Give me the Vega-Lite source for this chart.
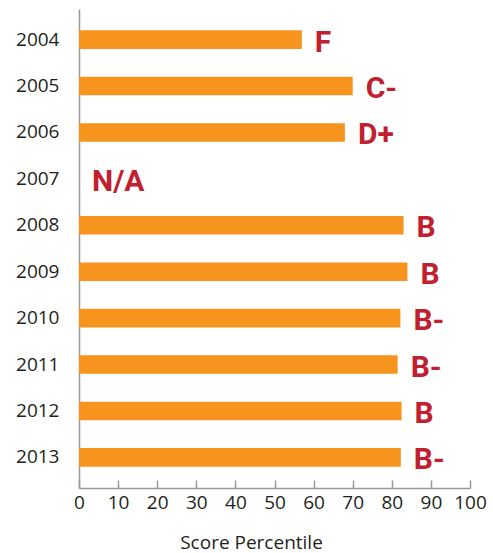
{
  "$schema": "https://vega.github.io/schema/vega-lite/v6.json",
  "autosize": {"type": "none"},
  "width": 391,
  "height": 479,
  "padding": {"left": 79, "top": 9, "right": 23, "bottom": 65},
  "background": "white",
  "config": {
    "view": {"stroke": null},
    "axisX": {
      "tickCount": 10,
      "labelOverlap": false,
      "labelFlush": false,
      "grid": false,
      "titleFont": "Open Sans",
      "titleFontSize": 19,
      "titleFontWeight": "normal",
      "titleColor": "#231F20",
      "titleX": 172,
      "titleY": 60,
      "titleBaseline": "alphabetic",
      "labelFont": "Open Sans",
      "labelFontSize": 19,
      "labelColor": "#231F20",
      "labelPadding": 13,
      "tickSize": -8,
      "tickColor": "#999999",
      "tickWidth": 1.5,
      "domainColor": "#999999",
      "domainWidth": 1.5
    },
    "axisY": {
      "ticks": false,
      "labelFont": "Open Sans",
      "labelFontSize": 19,
      "labelColor": "#231F20",
      "labelPadding": 20,
      "domainColor": "#999999",
      "domainWidth": 1.5
    }
  },
  "data": {
    "values": [
      {"year": "2004", "score": 57, "grade": "F"},
      {"year": "2005", "score": 70, "grade": "C-"},
      {"year": "2006", "score": 68, "grade": "D+"},
      {"year": "2007", "score": null, "grade": "N/A"},
      {"year": "2008", "score": 83, "grade": "B"},
      {"year": "2009", "score": 84, "grade": "B"},
      {"year": "2010", "score": 82.2, "grade": "B-"},
      {"year": "2011", "score": 81.5, "grade": "B-"},
      {"year": "2012", "score": 82.5, "grade": "B"},
      {"year": "2013", "score": 82.3, "grade": "B-"}
    ]
  },
  "encoding": {
    "y": {
      "field": "year",
      "type": "nominal",
      "sort": null,
      "title": null,
      "scale": {
        "domain": ["2004", "2005", "2006", "2007", "2008", "2009", "2010", "2011", "2012", "2013"],
        "paddingInner": 0.6,
        "paddingOuter": 0.46
      }
    }
  },
  "layer": [
    {
      "mark": {"type": "bar", "color": "#F7941E"},
      "encoding": {
        "x": {
          "field": "score",
          "type": "quantitative",
          "title": "Score Percentile",
          "scale": {"domain": [0, 100], "nice": false}
        }
      }
    },
    {
      "transform": [{"calculate": "datum.score == null ? 0 : datum.score", "as": "labelpos"}],
      "mark": {
        "type": "text",
        "align": "left",
        "baseline": "middle",
        "dx": 13,
        "dy": 3,
        "font": "Roboto",
        "fontWeight": "bold",
        "fontSize": 30,
        "color": "#C1202F"
      },
      "encoding": {
        "x": {"field": "labelpos", "type": "quantitative", "title": "Score Percentile"},
        "text": {"field": "grade"}
      }
    }
  ]
}
